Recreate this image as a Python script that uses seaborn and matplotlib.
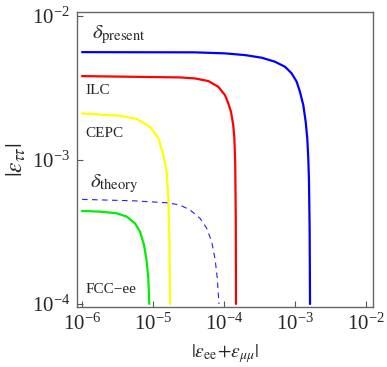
import pandas as pd
import matplotlib
matplotlib.use("Agg")
import matplotlib.pyplot as plt
import seaborn as sns
from matplotlib.ticker import LogLocator, NullLocator

# curves: |eps_ee + eps_mumu| (x) vs |eps_tautau| (y)
present_x = [1e-6, 3.91e-5, 1.03e-4, 1.98e-4, 3.4e-4, 5.22e-4, 7.23e-4, 8.99e-4, 1.057e-3, 1.175e-3,
             1.31e-3, 1.415e-3, 1.49e-3, 1.54e-3, 1.575e-3, 1.61e-3, 1.63e-3]
present_y = [5.62e-3, 5.6e-3, 5.51e-3, 5.36e-3, 5.14e-3, 4.82e-3, 4.45e-3, 4.0e-3, 3.5e-3, 2.98e-3,
             2.41e-3, 1.85e-3, 1.42e-3, 1.03e-3, 7.26e-4, 3.27e-4, 1.0e-4]

ilc_x = [1e-6, 2.4e-5, 3.91e-5, 6.01e-5, 8.31e-5, 1.03e-4, 1.15e-4, 1.256e-4, 1.35e-4, 1.40e-4,
         1.44e-4, 1.466e-4, 1.476e-4]
ilc_y = [3.83e-3, 3.75e-3, 3.69e-3, 3.54e-3, 3.23e-3, 2.83e-3, 2.48e-3, 2.16e-3, 1.75e-3, 1.42e-3,
         9.5e-4, 3.83e-4, 1.0e-4]

cepc_x = [1e-6, 1.8e-6, 3.43e-6, 5.89e-6, 9.08e-6, 1.19e-5, 1.40e-5, 1.56e-5, 1.64e-5, 1.70e-5, 1.74e-5]
cepc_y = [2.11e-3, 2.07e-3, 2.03e-3, 1.93e-3, 1.70e-3, 1.42e-3, 1.08e-3, 8.3e-4, 5.42e-4, 2.86e-4, 1.0e-4]

fcc_x = [1e-6, 1.8e-6, 3.08e-6, 4.27e-6, 5.58e-6, 6.56e-6, 7.47e-6, 8.15e-6, 8.59e-6, 8.87e-6]
fcc_y = [4.43e-4, 4.38e-4, 4.27e-4, 4.04e-4, 3.63e-4, 3.18e-4, 2.57e-4, 1.97e-4, 1.51e-4, 1.0e-4]

theory_x = [1e-6, 5.3e-6, 1.56e-5, 2.4e-5, 3.32e-5, 4.59e-5, 5.7e-5, 6.71e-5, 7.47e-5, 8.05e-5, 8.5e-5]
theory_y = [5.33e-4, 5.21e-4, 5.05e-4, 4.87e-4, 4.5e-4, 3.94e-4, 3.36e-4, 2.71e-4, 2.07e-4, 1.51e-4, 1.0e-4]

#%%
sns.set_style("ticks")
plt.rcParams["font.family"] = ["Liberation Serif", "DejaVu Serif"]
plt.rcParams["mathtext.fontset"] = "stix"

fig = plt.figure(figsize=(3.87, 3.67), dpi=100)
ax = fig.add_axes([0.199, 0.1635, 0.765, 0.8035])

curves = [
    (present_x, present_y, "#0000ff", "-", 1.6),
    (ilc_x, ilc_y, "#ff0000", "-", 1.6),
    (cepc_x, cepc_y, "#ffff00", "-", 1.6),
    (fcc_x, fcc_y, "#00ee00", "-", 1.6),
    (theory_x, theory_y, "#2020ff", (0, (5, 4)), 0.8),
]
for cx, cy, col, ls, lw in curves:
    df = pd.DataFrame({"x": cx, "y": cy})
    sns.lineplot(data=df, x="x", y="y", sort=False, estimator=None,
                 color=col, linestyle=ls, linewidth=lw, ax=ax)

ax.set_xscale("log")
ax.set_yscale("log")
ax.set_xlim(8.5e-7, 1.26e-2)
ax.set_ylim(9.53e-5, 1.066e-2)

ax.xaxis.set_major_locator(LogLocator(base=10, numticks=10))
ax.yaxis.set_major_locator(LogLocator(base=10, numticks=10))
ax.xaxis.set_minor_locator(NullLocator())
ax.yaxis.set_minor_locator(NullLocator())
ax.tick_params(direction="in", length=4, width=0.8, color="#555555",
               labelsize=15, pad=5)

for s in ax.spines.values():
    s.set_color("#666666")
    s.set_linewidth(1.0)

ax.set_xlabel(r"$|\epsilon_{\rm ee}\!+\!\epsilon_{\mu\mu}|$", fontsize=14, labelpad=5)
ax.set_ylabel(r"$|\epsilon_{\tau\tau}|$", fontsize=17, labelpad=3)

ax.text(0.05, 0.912, r"$\delta_{\rm present}$", transform=ax.transAxes, fontsize=15, va="baseline")
ax.text(0.027, 0.722, "ILC", transform=ax.transAxes, fontsize=11, va="baseline")
ax.text(0.027, 0.576, "CEPC", transform=ax.transAxes, fontsize=11, va="baseline")
ax.text(0.044, 0.407, r"$\delta_{\rm theory}$", transform=ax.transAxes, fontsize=15, va="baseline")
ax.text(0.03, 0.047, "FCC\u2212ee", transform=ax.transAxes, fontsize=11, va="baseline")

fig.savefig("out.png", dpi=100)
